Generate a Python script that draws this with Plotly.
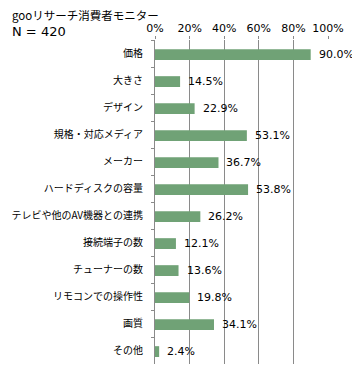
import plotly.graph_objects as go

categories = ["価格", "大きさ", "デザイン", "規格・対応メディア", "メーカー", "ハードディスクの容量",
              "テレビや他のAV機器との連携", "接続端子の数", "チューナーの数", "リモコンでの操作性", "画質", "その他"]
values = [90.0, 14.5, 22.9, 53.1, 36.7, 53.8, 26.2, 12.1, 13.6, 19.8, 34.1, 2.4]
x_ticks = [0, 20, 40, 60, 80, 100]
x_tick_labels = ["0%", "20%", "40%", "60%", "80%", "100%"]
title_line1 = "gooリサーチ消費者モニター"
title_line2 = "N = 420"

GRID = "#8a8a8a"
BAR = "#70A276"

# page body has an 8px default margin, so the figure is sized to fill the rest
W, H = 352, 372
ML, MR, MT, MB = 147, 32, 32, 16
pw, ph = W - ML - MR, H - MT - MB

fig = go.Figure()
fig.add_trace(go.Bar(
    x=values, y=categories, orientation="h",
    marker=dict(color=BAR, line=dict(width=0)),
    width=0.4, offset=-0.16,
    hoverinfo="skip",
))

annotations = []
for c, v in zip(categories, values):
    annotations.append(dict(
        x=v, y=c, xref="x", yref="y", text=f"{v:.1f}%", showarrow=False,
        xanchor="left", yanchor="middle", xshift=6, yshift=-1,
        font=dict(family="DejaVu Sans", size=11, color="#000000"),
    ))
title_annots = [
    dict(px=2, py=7, text=title_line1, family="Noto Sans CJK JP", size=11.5),
    dict(px=2, py=24, text=title_line2, family="DejaVu Sans", size=13),
]
for t in title_annots:
    annotations.append(dict(
        x=(t["px"] - ML) / pw, y=1 - (t["py"] - MT) / ph,
        xref="paper", yref="paper", text=t["text"], showarrow=False,
        xanchor="left", yanchor="middle",
        font=dict(family=t["family"], size=t["size"], color="#000000"),
    ))

fig.update_layout(
    width=W, height=H,
    margin=dict(l=ML, r=MR, t=MT, b=MB, pad=0, autoexpand=False),
    plot_bgcolor="white", paper_bgcolor="white",
    showlegend=False,
    annotations=annotations,
    font=dict(family="Noto Sans CJK JP", size=11, color="#000000"),
    xaxis=dict(
        side="top", range=[0, 100], tickvals=x_ticks, ticktext=x_tick_labels,
        showgrid=True, gridcolor=GRID, gridwidth=1,
        ticks="outside", ticklen=3, tickcolor=GRID,
        showline=False, zeroline=False, fixedrange=True, automargin=False,
        tickfont=dict(family="DejaVu Sans", size=11, color="#000000"),
    ),
    yaxis=dict(
        autorange="reversed", type="category",
        showline=True, linecolor=GRID, linewidth=1,
        ticks="outside", ticklen=3, tickcolor=GRID, tickson="boundaries",
        showgrid=False, zeroline=False, fixedrange=True, automargin=False,
        ticklabelstandoff=9,
        tickfont=dict(family="Noto Sans CJK JP", size=10, color="#000000"),
    ),
)

fig.write_html("out.html")
